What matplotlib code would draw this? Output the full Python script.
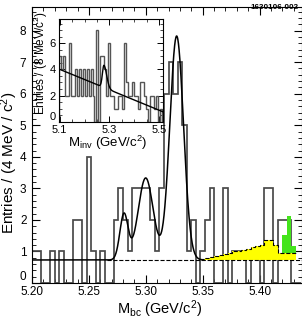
import numpy as np
import matplotlib
matplotlib.use("Agg")
import matplotlib.pyplot as plt
from matplotlib.ticker import MultipleLocator, FixedLocator, FormatStrFormatter

plt.rcParams['font.family'] = ['Liberation Sans', 'DejaVu Sans']
plt.rcParams['mathtext.fontset'] = 'custom'
plt.rcParams['mathtext.rm'] = 'Liberation Sans'
plt.rcParams['mathtext.it'] = 'Liberation Sans:italic'
plt.rcParams['mathtext.bf'] = 'Liberation Sans:bold'

# main histogram: Mbc, 4 MeV bins starting at 5.200
mbc_start = 5.200
mbc_width = 0.004
mbc_counts = [1, 1, 0, 0, 1, 0, 1, 0, 0, 2,
              2, 0, 4, 1, 0, 1, 0, 0, 2, 3,
              2, 1, 3, 3, 3, 3, 2, 1, 3, 6,
              7, 6, 7, 5, 1, 2, 0, 1, 2, 3,
              0, 0, 3, 0, 1, 1, 1, 0, 1, 1,
              0, 3, 3, 0, 2, 2, 2, 0, 0]

# yellow background component (top of the band), from bin 37 on
bg_first_bin = 37
bg_top = [0.77, 0.80, 0.82, 0.85, 0.88, 0.91, 0.95, 1.00, 1.02, 1.05,
          1.08, 1.13, 1.16, 1.21, 1.37, 1.37, 1.21, 0.94, 0.94, 0.94, 0.94]

# green component stacked on the yellow one
green_first_bin = 55
green_top = [1.53, 2.13, 1.16]

# fit: flat level + three gaussians
fit_base = 0.73
fit_end = 5.349
dash_start = 5.266
peak_mu = [5.2808, 5.2999, 5.3271]
peak_amp = [1.45, 2.6, 7.1]
peak_sigma = [0.0036, 0.0066, 0.0060]

# inset: Minv, 8 MeV bins starting at 5.096
minv_start = 5.096
minv_width = 0.008
minv_counts = [5, 4, 5, 2, 2, 6, 2, 2, 4, 2,
               4, 2, 4, 2, 4, 2, 4, 2, 0, 7,
               0, 5, 5, 4, 2, 6, 2, 2, 1, 1,
               2, 2, 1, 6, 3, 2, 2, 3, 2, 2,
               1, 3, 3, 2, 1, 0, 2, 2, 1, 2,
               0, 1]
# inset fit: linear background + asymmetric gaussian bump
in_bg0 = 4.0     # value at 5.1
in_slope = -7.8  # per GeV
in_mu = 5.278
in_amp = 1.7
in_sig_l = 0.006
in_sig_r = 0.011


fig = plt.figure(figsize=(3.02, 3.20), dpi=100)
ax = fig.add_axes([32/302, 37/320, 269.5/302, 275.7/320])

edges = mbc_start + mbc_width*np.arange(len(mbc_counts) + 1)
ax.stairs(mbc_counts, edges, color='#4a4a4a', lw=1.25, zorder=2)

bg_edges = edges[bg_first_bin:bg_first_bin + len(bg_top) + 1]
ax.stairs(bg_top, bg_edges, baseline=fit_base, fill=True, color='#ffff00', lw=0, zorder=3)
g0 = green_first_bin - bg_first_bin
green_edges = edges[green_first_bin:green_first_bin + len(green_top) + 1]
ax.stairs(green_top, green_edges, baseline=bg_top[g0:g0 + len(green_top)],
          fill=True, color='#44e41c', lw=0, zorder=3)
ax.stairs(bg_top, bg_edges, baseline=None, color='k', ls='--', lw=0.8, zorder=4)

xmax = 5.4368
ax.hlines(fit_base, dash_start, xmax, colors='k', linestyles='--', lw=0.8, zorder=4)
xf = np.linspace(mbc_start, fit_end, 800)
yf = fit_base + sum(a*np.exp(-0.5*((xf - m)/s)**2)
                    for m, a, s in zip(peak_mu, peak_amp, peak_sigma))
ax.plot(xf, yf, color='k', lw=1.1, zorder=5)

ax.set_xlim(mbc_start, xmax)
ax.set_ylim(0, 8.74)
ax.xaxis.set_major_locator(MultipleLocator(0.05))
ax.xaxis.set_minor_locator(MultipleLocator(0.01))
ax.xaxis.set_major_formatter(FormatStrFormatter('%.2f'))
ax.yaxis.set_major_locator(MultipleLocator(1))
ax.yaxis.set_minor_locator(MultipleLocator(0.2))
ax.tick_params(which='both', direction='in', top=True, right=True, labelsize=8.5)
ax.tick_params(which='major', length=6, width=0.8)
ax.tick_params(which='minor', length=3, width=0.6)
ax.tick_params(axis='x', pad=2)
ax.tick_params(axis='y', pad=4)
for sp in ax.spines.values():
    sp.set_linewidth(0.8)

# inset
axin = fig.add_axes([58.5/302, (320 - 121.7)/320, 104/302, 102.7/320])
axin.set_facecolor('white')
in_edges = minv_start + minv_width*np.arange(len(minv_counts) + 1)
axin.stairs(minv_counts, in_edges, color='#555555', lw=1.0, zorder=2)
xi = np.linspace(5.095, 5.514, 800)
sig = np.where(xi < in_mu, in_sig_l, in_sig_r)
yi = in_bg0 + in_slope*(xi - 5.1) + in_amp*np.exp(-0.5*((xi - in_mu)/sig)**2)
axin.plot(xi, yi, color='k', lw=1.0, zorder=3)
axin.set_xlim(5.095, 5.514)
axin.set_ylim(0, 7.85)
axin.xaxis.set_major_locator(FixedLocator([5.1, 5.3, 5.5]))
axin.xaxis.set_minor_locator(MultipleLocator(0.05))
axin.xaxis.set_major_formatter(FormatStrFormatter('%.1f'))
axin.yaxis.set_major_locator(MultipleLocator(2))
axin.yaxis.set_minor_locator(MultipleLocator(0.5))
axin.tick_params(which='both', direction='in', top=True, right=True, labelsize=8)
axin.tick_params(which='major', length=4, width=0.7)
axin.tick_params(which='minor', length=2, width=0.5)
axin.tick_params(axis='x', pad=2.5)
axin.tick_params(axis='y', pad=2)
for sp in axin.spines.values():
    sp.set_linewidth(0.8)

# titles
fig.text(160/302, 1 - 314/320, r'M$_\mathrm{bc}$ (GeV/c$^2$)', fontsize=10.5,
         ha='center', va='baseline')
fig.text(9.5/302, 1 - 163/320, r'Entries / (4 MeV / c$^2$)', fontsize=11,
         rotation=90, ha='center', va='center')
fig.text(107.5/302, 1 - 147.5/320, r'M$_\mathrm{inv}$ (GeV/c$^2$)', fontsize=9.5,
         ha='center', va='baseline')
fig.text(40.5/302, 1 - 63/320, r'Entries / (8 MeV/c$^2$)', fontsize=8.5,
         rotation=90, ha='center', va='center')
fig.text(274/302, 1 - 8.8/320, '1630106-002', fontsize=5.8, fontweight='bold',
         ha='center', va='baseline')

# lift the "0" labels off the bottom corner, as in the original
fig.canvas.draw()
for a in (ax, axin):
    for t in a.yaxis.get_major_ticks():
        if abs(t.get_loc()) < 1e-9:
            t.label1.set_va('bottom')

fig.savefig('out.png', dpi=100)
